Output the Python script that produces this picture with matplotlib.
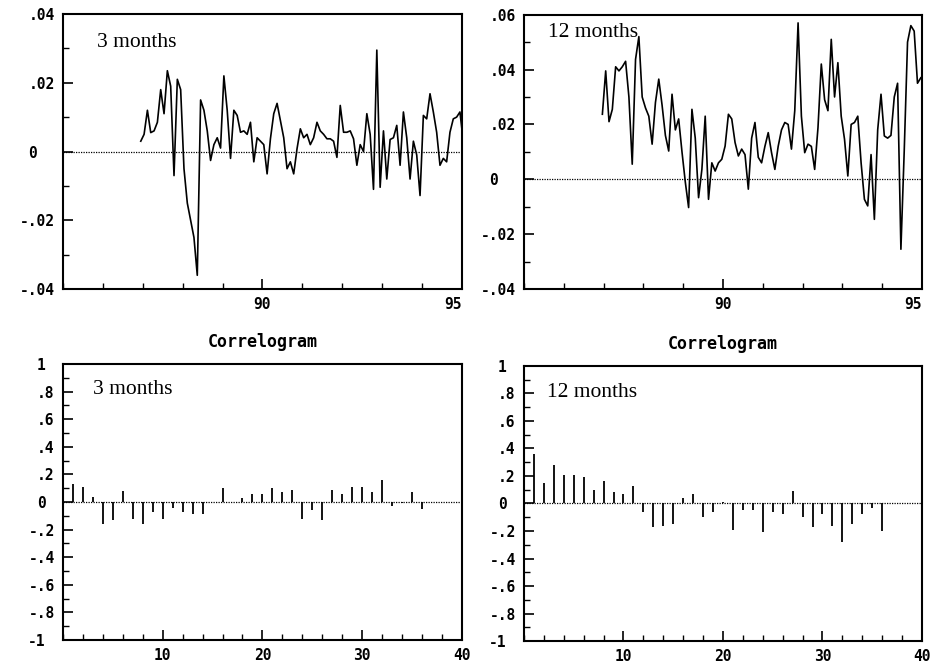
import matplotlib
matplotlib.use("Agg")
import matplotlib.pyplot as plt
import numpy as np
from matplotlib.ticker import MultipleLocator, FuncFormatter
from matplotlib.transforms import ScaledTranslation

# monthly series, starting early 1987
start_3m = 86.95
series_3m = [0.003, 0.005, 0.012, 0.0055, 0.006, 0.0085, 0.018, 0.011, 0.0235, 0.019,
             -0.007, 0.021, 0.018, -0.005, -0.015, -0.020, -0.025, -0.036, 0.015, 0.012,
             0.006, -0.0026, 0.002, 0.004, 0.001, 0.022, 0.012, -0.002, 0.012, 0.0105,
             0.0056, 0.006, 0.005, 0.0085, -0.003, 0.004, 0.003, 0.002, -0.0065, 0.0037,
             0.011, 0.014, 0.009, 0.004, -0.005, -0.003, -0.0065, 0.0008, 0.0066, 0.004,
             0.005, 0.002, 0.004, 0.0085, 0.006, 0.005, 0.0037, 0.0037, 0.003, -0.0017,
             0.0134, 0.0056, 0.0056, 0.006, 0.0037, -0.004, 0.002, 0.0, 0.011, 0.005,
             -0.011, 0.0295, -0.0104, 0.006, -0.008, 0.0035, 0.004, 0.0076, -0.004, 0.0115,
             0.004, -0.008, 0.003, -0.001, -0.0128, 0.0105, 0.0095, 0.0168, 0.0115, 0.0056,
             -0.004, -0.002, -0.003, 0.0056, 0.0095, 0.010, 0.0115, 0.003]

start_12m = 86.97
series_12m = [0.0237, 0.0395, 0.021, 0.0255, 0.041, 0.0395, 0.041, 0.043, 0.030, 0.0055,
              0.0437, 0.052, 0.030, 0.026, 0.023, 0.0128, 0.028, 0.0365, 0.027, 0.016,
              0.0103, 0.031, 0.018, 0.022, 0.010, -0.001, -0.0103, 0.0255, 0.015, -0.0067,
              0.0036, 0.023, -0.0073, 0.006, 0.003, 0.006, 0.0073, 0.0121, 0.0237, 0.022,
              0.0134, 0.0085, 0.011, 0.009, -0.0036, 0.015, 0.0207, 0.008, 0.006, 0.012,
              0.017, 0.0097, 0.0036, 0.012, 0.018, 0.0207, 0.020, 0.011, 0.025, 0.057,
              0.023, 0.0097, 0.0128, 0.012, 0.0036, 0.0188, 0.042, 0.029, 0.025, 0.051,
              0.030, 0.0425, 0.023, 0.0146, 0.0012, 0.020, 0.0207, 0.023, 0.006, -0.0073,
              -0.0097, 0.009, -0.0146, 0.018, 0.031, 0.0158, 0.015, 0.016, 0.030, 0.035,
              -0.0255, 0.0103, 0.050, 0.056, 0.054, 0.035, 0.037]

lags = np.arange(1, 37)
acf_3m = [0.13, 0.11, 0.04, -0.16, -0.13, 0.08, -0.12, -0.16, -0.07, -0.12,
          -0.04, -0.07, -0.09, -0.09, 0.0, 0.10, 0.0, 0.03, 0.06, 0.06,
          0.10, 0.07, 0.09, -0.12, -0.06, -0.13, 0.09, 0.06, 0.11, 0.11,
          0.07, 0.16, -0.03, -0.01, 0.07, -0.05]
acf_12m = [0.36, 0.15, 0.28, 0.21, 0.21, 0.19, 0.10, 0.16, 0.08, 0.07,
           0.13, -0.06, -0.17, -0.16, -0.15, 0.04, 0.07, -0.10, -0.06, 0.01,
           -0.19, -0.05, -0.05, -0.21, -0.06, -0.08, 0.09, -0.10, -0.17, -0.08,
           -0.16, -0.28, -0.15, -0.08, -0.03, -0.20]

FS = 10.5
tick_font = dict(family="DejaVu Sans Mono", weight="bold", size=FS)


def short_label(v, pos):
    if abs(v) < 1e-9:
        return "0"
    if abs(abs(v) - 1) < 1e-9:
        return "%d" % round(v)
    if abs(v) < 0.1:
        s = "%.2f" % v
    else:
        s = "%.1f" % v
    return s.replace("0.", ".", 1)


fig = plt.figure(figsize=(9.3, 6.66), dpi=100)


def style_axes(ax, ndec):
    for sp in ax.spines.values():
        sp.set_linewidth(1.5)
    ax.tick_params(which="both", direction="in", top=False, right=False, color="black")
    ax.tick_params(which="major", length=7, width=1.2, pad=6)
    ax.tick_params(which="minor", length=4, width=1)
    ax.yaxis.set_major_formatter(FuncFormatter(short_label))
    for lab in ax.get_xticklabels() + ax.get_yticklabels():
        lab.set_fontproperties(matplotlib.font_manager.FontProperties(**tick_font))
    # integers sit in the column of the decimal point, like the old printout
    shift = ScaledTranslation(-ndec * 0.602 * FS / 72.0, 0, fig.dpi_scale_trans)
    for lab in ax.get_yticklabels():
        if "." not in lab.get_text():
            lab.set_transform(lab.get_transform() + shift)
    ax.axhline(0, color="black", lw=0.9, ls=(0, (1, 1)), zorder=1)


ax1 = fig.add_axes([0.0677, 0.566, 0.429, 0.413])
ax2 = fig.add_axes([0.5634, 0.566, 0.428, 0.412])
ax3 = fig.add_axes([0.0677, 0.039, 0.429, 0.4144])
ax4 = fig.add_axes([0.5634, 0.0375, 0.428, 0.413])

for ax, start, ser, lo, hi, label, tx, ty in [
        (ax1, start_3m, series_3m, -0.04, 0.04, "3 months", 0.085, 0.898),
        (ax2, start_12m, series_12m, -0.04, 0.06, "12 months", 0.06, 0.934)]:
    t = start + np.arange(len(ser)) / 12.0
    ax.plot(t, ser, color="black", lw=1.2, zorder=2)
    ax.set_xlim(85, 95)
    ax.set_ylim(lo, hi)
    ax.set_xticks([90, 95])
    ax.xaxis.set_minor_locator(MultipleLocator(1))
    ax.yaxis.set_major_locator(MultipleLocator(0.02))
    ax.yaxis.set_minor_locator(MultipleLocator(0.01))
    style_axes(ax, 2)
    ax.get_xticklabels()[-1].set_ha("right")
    ax.text(tx, ty, label, transform=ax.transAxes, family="Liberation Serif",
            fontsize=15.5, va="center", ha="left")

for ax, acf, label, tx, ty in [(ax3, acf_3m, "3 months", 0.075, 0.906),
                               (ax4, acf_12m, "12 months", 0.058, 0.905)]:
    ax.vlines(lags, 0, acf, color="black", lw=1.3, zorder=2)
    ax.set_xlim(0, 40)
    ax.set_ylim(-1, 1)
    ax.set_xticks([10, 20, 30, 40])
    ax.xaxis.set_minor_locator(MultipleLocator(2))
    ax.yaxis.set_major_locator(MultipleLocator(0.2))
    ax.yaxis.set_minor_locator(MultipleLocator(0.1))
    style_axes(ax, 1)
    ax.set_title("Correlogram", family="DejaVu Sans Mono", weight="bold",
                 fontsize=12, pad=12)
    ax.text(tx, ty, label, transform=ax.transAxes, family="Liberation Serif",
            fontsize=15.5, va="center", ha="left")

fig.savefig("out.png", dpi=100)
